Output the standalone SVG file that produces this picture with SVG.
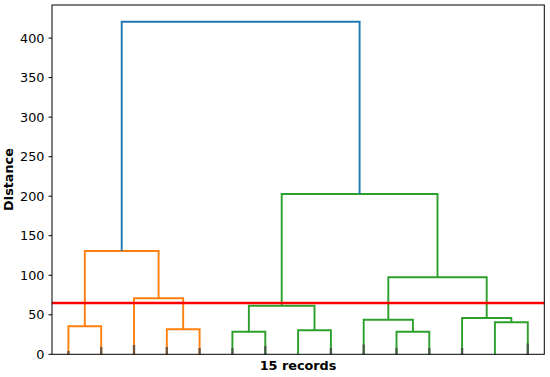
<svg xmlns="http://www.w3.org/2000/svg" width="550" height="377" viewBox="0 0 550 377">
<style>
.lk{fill:none;stroke-width:1.9;stroke-linejoin:miter}
.o{stroke:#ff7f0e}.g{stroke:#2ca02c}.b{stroke:#1f77b4}
.tick{stroke:#000;stroke-width:1}
.tl{font-family:"DejaVu Sans",sans-serif;font-size:12.8px;fill:#000;text-anchor:end}
.lab{font-family:"DejaVu Sans",sans-serif;font-size:12.8px;font-weight:bold;fill:#000;text-anchor:middle}
.mk{fill:#444;opacity:0.75}
</style>
<rect width="550" height="377" fill="#fff"/>
<g id="connectors">
<path class="lk o" d="M68.4,354.3V326.3H101.2V354.3"/>
<path class="lk o" d="M166.8,354.3V329.3H199.6V354.3"/>
<path class="lk o" d="M134,354.3V298.3H183.2V329.3"/>
<path class="lk o" d="M84.8,326.3V251H158.6V298.3"/>
<path class="lk g" d="M232.4,354.3V331.7H265.3V354.3"/>
<path class="lk g" d="M298.1,354.3V330.3H330.9V354.3"/>
<path class="lk g" d="M248.85,331.7V305.7H314.5V330.3"/>
<path class="lk g" d="M396.5,354.3V331.7H429.3V354.3"/>
<path class="lk g" d="M363.7,354.3V319.7H412.9V331.7"/>
<path class="lk g" d="M494.9,354.3V322.3H527.8V354.3"/>
<path class="lk g" d="M462.1,354.3V318H511.35V322.3"/>
<path class="lk g" d="M388.3,319.7V277.3H486.7V318"/>
<path class="lk g" d="M281.7,305.7V194H437.5V277.3"/>
<path class="lk b" d="M121.7,251V21.7H359.6V194"/>
</g>
<g id="leafmarks">
<rect class="mk" x="67.2" y="351" width="2.4" height="3.3"/>
<rect class="mk" x="100" y="347" width="2.4" height="7.3"/>
<rect class="mk" x="132.8" y="345" width="2.4" height="9.3"/>
<rect class="mk" x="165.6" y="347" width="2.4" height="7.3"/>
<rect class="mk" x="198.4" y="348" width="2.4" height="6.3"/>
<rect class="mk" x="231.2" y="348" width="2.4" height="6.3"/>
<rect class="mk" x="264.1" y="346" width="2.4" height="8.3"/>
<rect class="mk" x="329.7" y="348" width="2.4" height="6.3"/>
<rect class="mk" x="362.5" y="344.5" width="2.4" height="9.8"/>
<rect class="mk" x="395.3" y="348" width="2.4" height="6.3"/>
<rect class="mk" x="428.1" y="348" width="2.4" height="6.3"/>
<rect class="mk" x="460.9" y="348" width="2.4" height="6.3"/>
<rect class="mk" x="526.6" y="343.5" width="2.4" height="10.8"/>
</g>
<g id="threshold">
<line x1="52" y1="303" x2="544.3" y2="303" stroke="#ff0000" stroke-width="2.5"/>
</g>
<g id="axes">
<rect x="52" y="5" width="492.3" height="349.3" fill="none" stroke="#000" stroke-width="1"/>
<g class="tick">
<line x1="48.5" y1="354.3" x2="52" y2="354.3"/>
<line x1="48.5" y1="314.8" x2="52" y2="314.8"/>
<line x1="48.5" y1="275.25" x2="52" y2="275.25"/>
<line x1="48.5" y1="235.7" x2="52" y2="235.7"/>
<line x1="48.5" y1="196.2" x2="52" y2="196.2"/>
<line x1="48.5" y1="156.7" x2="52" y2="156.7"/>
<line x1="48.5" y1="117.15" x2="52" y2="117.15"/>
<line x1="48.5" y1="77.6" x2="52" y2="77.6"/>
<line x1="48.5" y1="38.1" x2="52" y2="38.1"/>
</g>
<text class="tl" x="44.5" y="358.9">0</text>
<text class="tl" x="44.5" y="319.4">50</text>
<text class="tl" x="44.5" y="279.9">100</text>
<text class="tl" x="44.5" y="240.3">150</text>
<text class="tl" x="44.5" y="200.8">200</text>
<text class="tl" x="44.5" y="161.3">250</text>
<text class="tl" x="44.5" y="121.8">300</text>
<text class="tl" x="44.5" y="82.2">350</text>
<text class="tl" x="44.5" y="42.7">400</text>
<text class="lab" x="298" y="369.5">15 records</text>
<text class="lab" transform="translate(13.3,179.5) rotate(-90)">Distance</text>
</g>
</svg>
